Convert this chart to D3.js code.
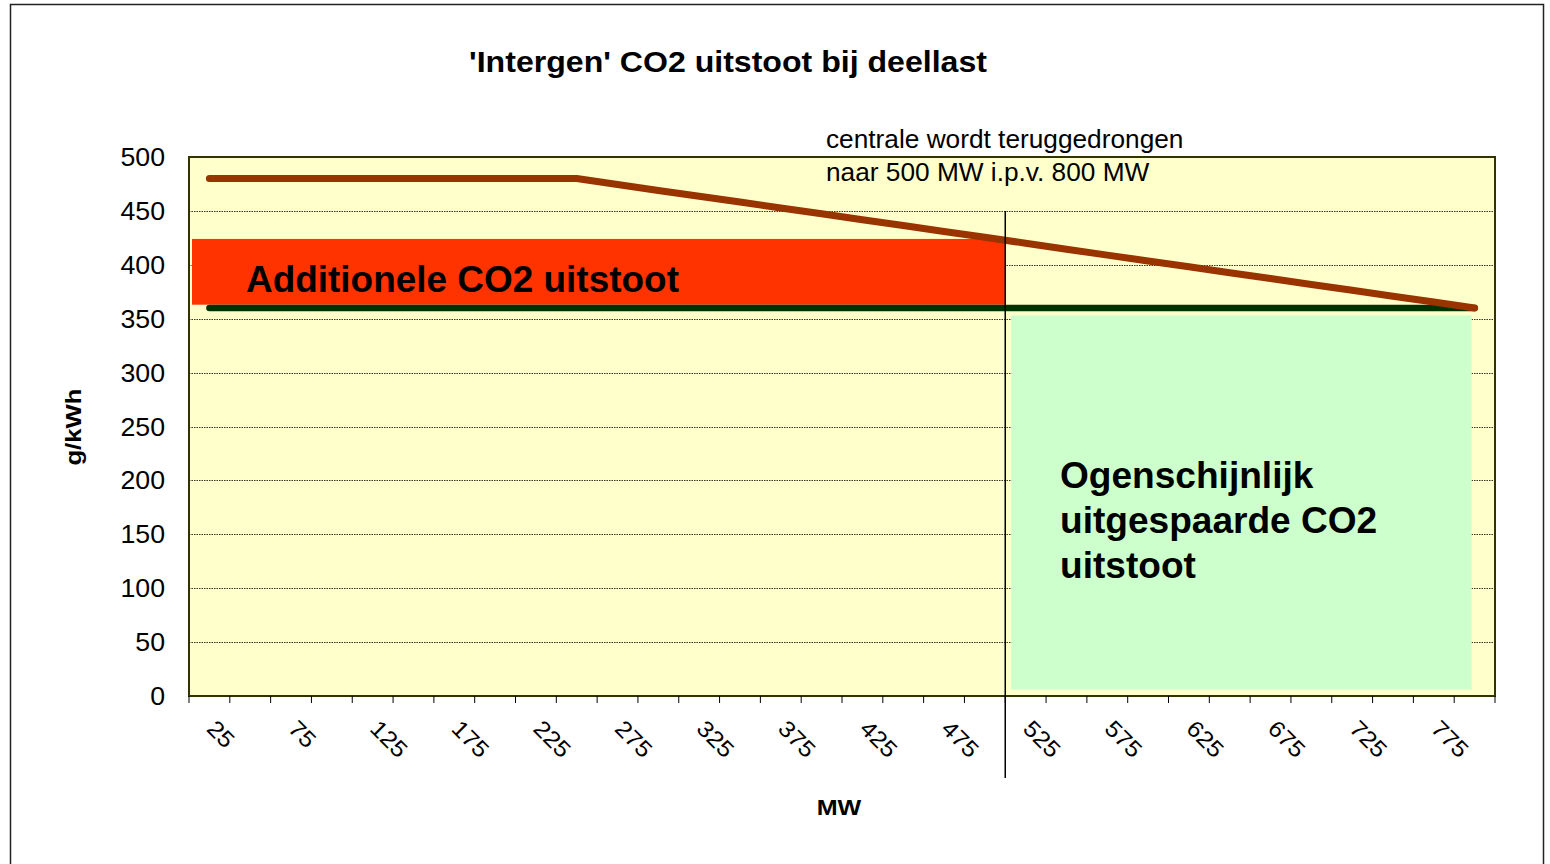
<!DOCTYPE html>
<html>
<head>
<meta charset="utf-8">
<script src="https://cdn.jsdelivr.net/npm/d3@7"></script>
<style>
  body { margin: 0; background: #fff; }
  svg { display: block; font-family: Arial, "Liberation Sans", sans-serif; }
</style>
</head>
<body>
<div class="container"></div>
<script>
const w = 1550;
const h = 864;
const plot = { left: 189, right: 1495, top: 157, bottom: 696 };

// MW categories (every 25 MW), only every other one is labelled
const categories = ['25', '50', '75', '100', '125', '150', '175', '200', '225', '250',
    '275', '300', '325', '350', '375', '400', '425', '450', '475', '500',
    '525', '550', '575', '600', '625', '650', '675', '700', '725', '750', '775', '800'];
const tickLabels = ['25', '75', '125', '175', '225', '275', '325', '375', '425', '475',
    '525', '575', '625', '675', '725', '775'];
const yTicks = [0, 50, 100, 150, 200, 250, 300, 350, 400, 450, 500];

// g/kWh at part load
const deellast = [480, 480, 480, 480, 480, 480, 480, 480, 480, 480,
    474.5, 469, 463.6, 458.2, 452.7, 447.3, 441.8, 436.4, 430.9, 425.5,
    420, 414.5, 409, 403.6, 398.2, 392.7, 387.3, 381.8, 376.4, 370.9, 365.5, 360];
// g/kWh at full load
const vollast = [360, 360, 360, 360, 360, 360, 360, 360, 360, 360,
    360, 360, 360, 360, 360, 360, 360, 360, 360, 360,
    360, 360, 360, 360, 360, 360, 360, 360, 360, 360, 360, 360];

// annotation boxes: category range and value range
const redBox = { from: '25', to: '500', low: 363, high: 424 };
const greenBox = { from: '525', to: '800', low: 6, high: 353 };
const splitAfter = '500';

const svg = d3.select('.container')
    .append('svg')
    .attr('width', w)
    .attr('height', h);

// text helper: the original chart has slightly stretched lettering
function label(x, y, txt, size, sx, opts = {}) {
    return svg.append('text')
        .attr('transform', `translate(${x}, ${y})${opts.rotate ? ` rotate(${opts.rotate})` : ''} scale(${sx}, 1)`)
        .attr('text-anchor', opts.anchor || 'start')
        .style('font-size', size + 'px')
        .style('font-weight', opts.bold ? 'bold' : 'normal')
        .text(txt);
}

// outer frame
svg.append('rect')
    .attr('x', 10.5)
    .attr('y', 4.5)
    .attr('width', 1533)
    .attr('height', 880)
    .attr('fill', 'none')
    .attr('stroke', '#222')
    .attr('stroke-width', 1.5);

const xScale = d3.scaleBand()
    .domain(categories)
    .range([plot.left, plot.right]);

const yScale = d3.scaleLinear()
    .domain([0, 500])
    .range([plot.bottom, plot.top]);

// plot background
svg.append('rect')
    .attr('x', plot.left)
    .attr('y', plot.top)
    .attr('width', plot.right - plot.left)
    .attr('height', plot.bottom - plot.top)
    .attr('fill', '#FFFFCC');

// gridlines
svg.selectAll('.grid')
    .data(yTicks.filter(d => d > 0 && d < 500))
    .enter()
    .append('line')
    .attr('class', 'grid')
    .attr('x1', plot.left)
    .attr('x2', plot.right)
    .attr('y1', d => Math.round(yScale(d)) + 0.5)
    .attr('y2', d => Math.round(yScale(d)) + 0.5)
    .attr('stroke', '#000')
    .attr('stroke-width', 0.8)
    .attr('stroke-dasharray', '1.5,1');

// boxes
const bw = xScale.bandwidth();
svg.append('rect')
    .attr('x', xScale(redBox.from) + 3)
    .attr('y', yScale(redBox.high))
    .attr('width', xScale(redBox.to) + bw - xScale(redBox.from) - 3)
    .attr('height', yScale(redBox.low) - yScale(redBox.high))
    .attr('fill', '#FF3300');

svg.append('rect')
    .attr('x', xScale(greenBox.from) + 6)
    .attr('y', yScale(greenBox.high))
    .attr('width', xScale(greenBox.to) + bw / 2 - 3 - xScale(greenBox.from) - 6)
    .attr('height', yScale(greenBox.low) - yScale(greenBox.high))
    .attr('fill', '#CCFFCC');

// lines
const line = d3.line()
    .x((d, i) => xScale(categories[i]) + bw / 2)
    .y(d => yScale(d));

svg.append('path')
    .datum(vollast)
    .attr('d', line)
    .attr('fill', 'none')
    .attr('stroke', '#003300')
    .attr('stroke-width', 6.5)
    .attr('stroke-linecap', 'round');

svg.append('path')
    .datum(deellast)
    .attr('d', line)
    .attr('fill', 'none')
    .attr('stroke', '#993300')
    .attr('stroke-width', 7)
    .attr('stroke-linecap', 'round')
    .attr('stroke-linejoin', 'round');

// plot border
svg.append('rect')
    .attr('x', plot.left)
    .attr('y', plot.top)
    .attr('width', plot.right - plot.left)
    .attr('height', plot.bottom - plot.top)
    .attr('fill', 'none')
    .attr('stroke', '#333300')
    .attr('stroke-width', 2);

// vertical split line
const splitX = xScale(splitAfter) + bw;
svg.append('line')
    .attr('x1', splitX)
    .attr('x2', splitX)
    .attr('y1', yScale(450))
    .attr('y2', 778)
    .attr('stroke', '#000')
    .attr('stroke-width', 1.5);

// x ticks at every band edge
const edges = categories.map(c => xScale(c)).concat([plot.right]);
svg.selectAll('.xtick')
    .data(edges)
    .enter()
    .append('line')
    .attr('class', 'xtick')
    .attr('x1', d => d)
    .attr('x2', d => d)
    .attr('y1', plot.bottom)
    .attr('y2', plot.bottom + 7)
    .attr('stroke', '#000')
    .attr('stroke-width', 1);

tickLabels.forEach(d => {
    label(xScale(d) + bw / 2 - 4, 730, d, 23, 1.08, { rotate: 45 });
});

// y labels
yTicks.forEach(d => {
    label(165, yScale(d) + 9, d, 25, 1.07, { anchor: 'end' });
});

// texts
label(728, 72, "'Intergen' CO2 uitstoot bij deellast", 30, 1.07, { anchor: 'middle', bold: true });
label(81, 427, 'g/kWh', 22, 1.17, { anchor: 'middle', bold: true, rotate: -90 });
label(839, 815, 'MW', 22, 1.14, { anchor: 'middle', bold: true });

label(826, 148, 'centrale wordt teruggedrongen', 25, 1.05);
label(826, 181, 'naar 500 MW i.p.v. 800 MW', 25, 1.05);

label(246, 292, 'Additionele CO2 uitstoot', 36, 1.026, { bold: true });

['Ogenschijnlijk', 'uitgespaarde CO2', 'uitstoot'].forEach((t, i) => {
    label(1060, 488 + i * 45, t, 36, 1.03, { bold: true });
});
</script>
</body>
</html>
